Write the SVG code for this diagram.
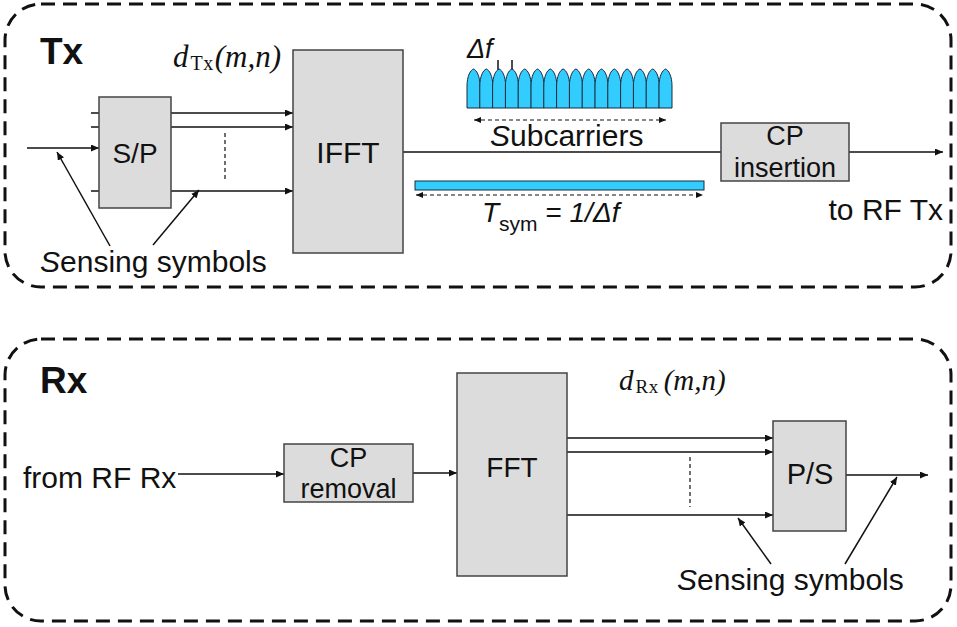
<svg xmlns="http://www.w3.org/2000/svg" width="957" height="627" viewBox="0 0 957 627">
<style>
.frame{fill:none;stroke:#111;stroke-width:3;stroke-dasharray:14 8}
.blk{fill:#dcdcdc;stroke:#444;stroke-width:1.5}
.ln{fill:none;stroke:#111;stroke-width:1.5}
.dsh{fill:none;stroke:#111;stroke-width:1.2;stroke-dasharray:4 3}
.t{font-family:"Liberation Sans",Arial,sans-serif;fill:#111}
.m{font-family:"Liberation Serif","Times New Roman",serif;fill:#111}
.bump{fill:#33ccff;stroke:#1b2b3b;stroke-width:1}
</style>
<defs>
<marker id="ah" markerUnits="userSpaceOnUse" markerWidth="9" markerHeight="7" refX="8" refY="3.5" orient="auto">
<path d="M0,0 L8,3.5 L0,7 Z" fill="#111"/>
</marker>
<marker id="as" markerUnits="userSpaceOnUse" markerWidth="8" markerHeight="6" refX="7" refY="3" orient="auto-start-reverse">
<path d="M0,0 L7,3 L0,6 Z" fill="#111"/>
</marker>
</defs>

<g id="tx-frame">
<rect class="frame" x="5" y="4" width="946" height="283" rx="36"/>
<text class="t" x="40" y="64" font-size="37" font-weight="bold">Tx</text>
</g>
<g id="rx-frame">
<rect class="frame" x="5" y="339" width="946" height="282" rx="36"/>
<text class="t" x="40" y="393" font-size="37" font-weight="bold">Rx</text>
</g>

<g id="connectors">
<line class="ln" x1="27" y1="148" x2="99" y2="148" marker-end="url(#ah)"/>
<line class="ln" x1="91" y1="113" x2="99" y2="113"/>
<line class="ln" x1="91" y1="127" x2="99" y2="127"/>
<line class="ln" x1="91" y1="191" x2="99" y2="191"/>
<line class="ln" x1="171" y1="113" x2="293" y2="113" marker-end="url(#ah)"/>
<line class="ln" x1="171" y1="127" x2="293" y2="127" marker-end="url(#ah)"/>
<line class="ln" x1="171" y1="191" x2="293" y2="191" marker-end="url(#ah)"/>
<line class="dsh" x1="225" y1="133" x2="225" y2="182"/>
<line class="ln" x1="110" y1="246" x2="57" y2="152" marker-end="url(#ah)"/>
<line class="ln" x1="153" y1="245" x2="199" y2="190" marker-end="url(#ah)"/>
<line class="ln" x1="403" y1="152" x2="721" y2="152"/>
<line class="ln" x1="849" y1="152" x2="943" y2="152" marker-end="url(#ah)"/>
<line class="dsh" x1="474" y1="120" x2="666" y2="120" marker-start="url(#as)" marker-end="url(#as)"/>
<line class="dsh" x1="416" y1="195" x2="703" y2="195" marker-start="url(#as)" marker-end="url(#as)"/>
<line class="ln" x1="498" y1="60" x2="498" y2="70"/>
<line class="ln" x1="512" y1="60" x2="512" y2="70"/>
<line class="ln" x1="178" y1="474" x2="284" y2="474" marker-end="url(#ah)"/>
<line class="ln" x1="413" y1="473" x2="457" y2="473" marker-end="url(#ah)"/>
<line class="ln" x1="567" y1="438" x2="773" y2="438" marker-end="url(#ah)"/>
<line class="ln" x1="567" y1="452" x2="773" y2="452" marker-end="url(#ah)"/>
<line class="ln" x1="567" y1="515" x2="773" y2="515" marker-end="url(#ah)"/>
<line class="dsh" x1="690" y1="457" x2="690" y2="507"/>
<line class="ln" x1="846" y1="475" x2="928" y2="475" marker-end="url(#ah)"/>
<line class="ln" x1="771" y1="564" x2="738" y2="518" marker-end="url(#ah)"/>
<line class="ln" x1="845" y1="564" x2="897" y2="477" marker-end="url(#ah)"/>
</g>

<g id="sp">
<rect class="blk" x="99" y="97" width="72" height="111"/>
<text class="t" x="135" y="163" font-size="28" text-anchor="middle">S/P</text>
</g>
<g id="ifft">
<rect class="blk" x="293" y="50" width="110" height="203"/>
<text class="t" x="348" y="163" font-size="30" text-anchor="middle">IFFT</text>
</g>
<g id="cp-ins">
<rect class="blk" x="721" y="123" width="128" height="58"/>
<text class="t" x="785" y="145" font-size="27" text-anchor="middle">CP</text>
<text class="t" x="785" y="177" font-size="27" text-anchor="middle">insertion</text>
</g>
<g id="cp-rem">
<rect class="blk" x="284" y="444" width="129" height="58"/>
<text class="t" x="348.5" y="467" font-size="27" text-anchor="middle">CP</text>
<text class="t" x="348.5" y="498" font-size="27" text-anchor="middle">removal</text>
</g>
<g id="fft">
<rect class="blk" x="457" y="373" width="110" height="203"/>
<text class="t" x="512" y="477" font-size="28" text-anchor="middle">FFT</text>
</g>
<g id="ps">
<rect class="blk" x="773" y="421" width="73" height="110"/>
<text class="t" x="810" y="484" font-size="29" text-anchor="middle">P/S</text>
</g>

<g id="subcarriers">
<path class="bump" d="M467,108 V86 C467,76 470.5,70 473.5,69 C476.5,70 480,76 480,86 V108 Z"/>
<path class="bump" d="M479.8,108 V86 C479.8,76 483.3,70 486.3,69 C489.3,70 492.8,76 492.8,86 V108 Z"/>
<path class="bump" d="M492.6,108 V86 C492.6,76 496.1,70 499.1,69 C502.1,70 505.6,76 505.6,86 V108 Z"/>
<path class="bump" d="M505.4,108 V86 C505.4,76 508.9,70 511.9,69 C514.9,70 518.4,76 518.4,86 V108 Z"/>
<path class="bump" d="M518.2,108 V86 C518.2,76 521.7,70 524.7,69 C527.7,70 531.2,76 531.2,86 V108 Z"/>
<path class="bump" d="M531,108 V86 C531,76 534.5,70 537.5,69 C540.5,70 544,76 544,86 V108 Z"/>
<path class="bump" d="M543.8,108 V86 C543.8,76 547.3,70 550.3,69 C553.3,70 556.8,76 556.8,86 V108 Z"/>
<path class="bump" d="M556.6,108 V86 C556.6,76 560.1,70 563.1,69 C566.1,70 569.6,76 569.6,86 V108 Z"/>
<path class="bump" d="M569.4,108 V86 C569.4,76 572.9,70 575.9,69 C578.9,70 582.4,76 582.4,86 V108 Z"/>
<path class="bump" d="M582.2,108 V86 C582.2,76 585.7,70 588.7,69 C591.7,70 595.2,76 595.2,86 V108 Z"/>
<path class="bump" d="M595,108 V86 C595,76 598.5,70 601.5,69 C604.5,70 608,76 608,86 V108 Z"/>
<path class="bump" d="M607.8,108 V86 C607.8,76 611.3,70 614.3,69 C617.3,70 620.8,76 620.8,86 V108 Z"/>
<path class="bump" d="M620.6,108 V86 C620.6,76 624.1,70 627.1,69 C630.1,70 633.6,76 633.6,86 V108 Z"/>
<path class="bump" d="M633.4,108 V86 C633.4,76 636.9,70 639.9,69 C642.9,70 646.4,76 646.4,86 V108 Z"/>
<path class="bump" d="M646.2,108 V86 C646.2,76 649.7,70 652.7,69 C655.7,70 659.2,76 659.2,86 V108 Z"/>
<path class="bump" d="M659,108 V86 C659,76 662.5,70 665.5,69 C668.5,70 672,76 672,86 V108 Z"/>
</g>
<g id="symbol-bar">
<rect x="415" y="181" width="289" height="9" fill="#33ccff" stroke="#1b2b3b" stroke-width="1"/>
</g>

<g id="labels">
<text class="m" x="173" y="67" font-size="31"><tspan font-style="italic">d</tspan><tspan font-size="20" dy="3" dx="2" letter-spacing="0.5">Tx</tspan><tspan dy="-3" dx="1" font-style="italic">(m,n)</tspan></text>
<text class="m" x="619" y="390" font-size="29"><tspan font-style="italic">d</tspan><tspan font-size="19" dy="3" dx="2" letter-spacing="0.5">Rx</tspan><tspan dy="-3" dx="5" font-style="italic">(m,n)</tspan></text>
<text class="t" x="467" y="58" font-size="27" font-style="italic">Δf</text>
<text class="t" x="490" y="146" font-size="30"><tspan font-style="italic">S</tspan>ubcarriers</text>
<text class="t" x="482" y="222" font-size="28"><tspan font-style="italic">T</tspan><tspan font-size="21" dy="9">sym</tspan><tspan dy="-9"> = </tspan><tspan font-style="italic">1/Δf</tspan></text>
<text class="t" x="943" y="220" font-size="30" text-anchor="end">to RF Tx</text>
<text class="t" x="40" y="272" font-size="30"><tspan font-style="italic">S</tspan>ensing symbols</text>
<text class="t" x="23" y="488" font-size="30">from RF Rx</text>
<text class="t" x="677" y="590" font-size="30"><tspan font-style="italic">S</tspan>ensing symbols</text>
</g>
</svg>
